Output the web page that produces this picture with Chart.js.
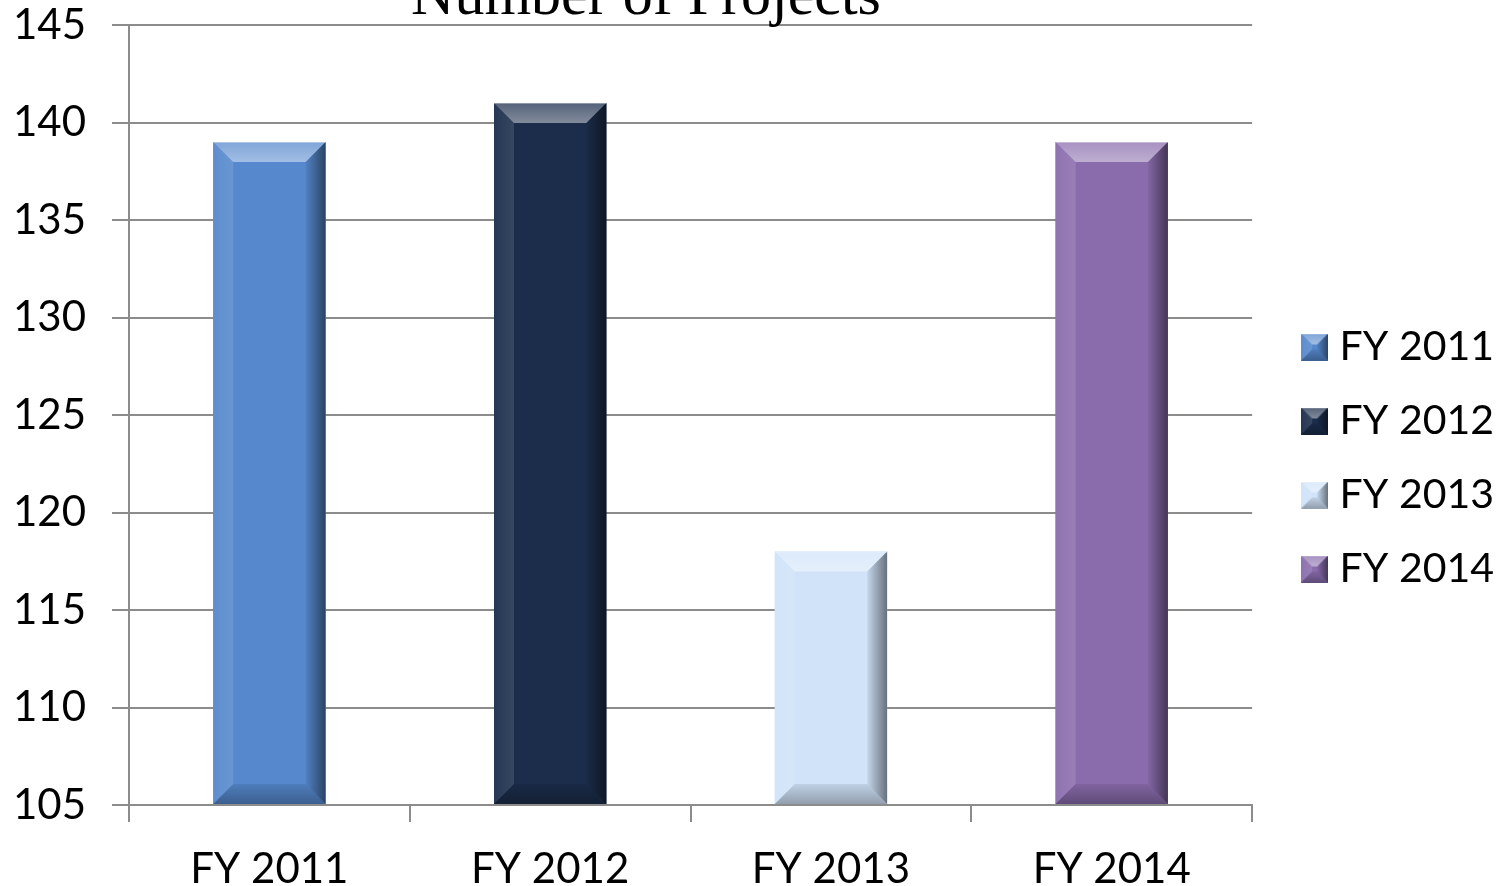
<!DOCTYPE html>
<html>
<head>
<meta charset="utf-8">
<script src="https://cdn.jsdelivr.net/npm/chart.js@4.4.1/dist/chart.umd.min.js"></script>
<style>
  html, body { margin: 0; padding: 0; background: #fff; }
  #wrap { width: 1512px; height: 886px; }
</style>
</head>
<body>
<div id="wrap"><canvas id="chart" width="1512" height="886"></canvas></div>
<script>
const categories = ["FY 2011", "FY 2012", "FY 2013", "FY 2014"];
const projectCounts = [139, 141, 118, 139];
const barColors = ["#5588cc", "#1b2d4b", "#d0e3f9", "#8a6cad"];
const yTicks = [105, 110, 115, 120, 125, 130, 135, 140, 145];
const chartTitle = "Number of Projects";

const gridColor = "#8c8c8c";

// bevelled box like the office "bevel" bar style
function drawBevel(ctx, l, t, r, b, color, bev) {
  ctx.save();
  ctx.fillStyle = color;
  ctx.fillRect(l, t, r - l, b - t);
  bev = Math.min(bev, (r - l) / 2, (b - t) / 2);
  // top
  let g = ctx.createLinearGradient(0, t, 0, t + bev);
  g.addColorStop(0, "rgba(255,255,255,0.25)");
  g.addColorStop(1, "rgba(255,255,255,0.45)");
  ctx.fillStyle = g;
  ctx.beginPath();
  ctx.moveTo(l, t); ctx.lineTo(r, t); ctx.lineTo(r - bev, t + bev); ctx.lineTo(l + bev, t + bev);
  ctx.closePath(); ctx.fill();
  // left
  g = ctx.createLinearGradient(l, 0, l + bev, 0);
  g.addColorStop(0, "rgba(255,255,255,0.05)");
  g.addColorStop(1, "rgba(255,255,255,0.12)");
  ctx.fillStyle = g;
  ctx.beginPath();
  ctx.moveTo(l, t); ctx.lineTo(l + bev, t + bev); ctx.lineTo(l + bev, b - bev); ctx.lineTo(l, b);
  ctx.closePath(); ctx.fill();
  // right
  g = ctx.createLinearGradient(r - bev, 0, r, 0);
  g.addColorStop(0, "rgba(0,0,0,0.05)");
  g.addColorStop(1, "rgba(0,0,0,0.5)");
  ctx.fillStyle = g;
  ctx.beginPath();
  ctx.moveTo(r, t); ctx.lineTo(r, b); ctx.lineTo(r - bev, b - bev); ctx.lineTo(r - bev, t + bev);
  ctx.closePath(); ctx.fill();
  // bottom
  g = ctx.createLinearGradient(0, b - bev, 0, b);
  g.addColorStop(0, "rgba(0,0,0,0.08)");
  g.addColorStop(1, "rgba(0,0,0,0.3)");
  ctx.fillStyle = g;
  ctx.beginPath();
  ctx.moveTo(l, b); ctx.lineTo(l + bev, b - bev); ctx.lineTo(r - bev, b - bev); ctx.lineTo(r, b);
  ctx.closePath(); ctx.fill();
  ctx.strokeStyle = "rgba(255,255,255,0.35)";
  ctx.lineWidth = 1;
  ctx.beginPath(); ctx.moveTo(l, t + 0.5); ctx.lineTo(r, t + 0.5); ctx.stroke();
  ctx.restore();
}

// little legend swatches with the same bevel
const legendIcons = barColors.map(c => {
  const cv = document.createElement("canvas");
  cv.width = 27; cv.height = 27;
  drawBevel(cv.getContext("2d"), 0, 0, 27, 27, c, 11);
  return cv;
});

const bevelBars = {
  id: "bevelBars",
  afterDatasetsDraw(chart) {
    const ctx = chart.ctx;
    chart.getDatasetMeta(0).data.forEach((bar, i) => {
      const p = bar.getProps(["x", "y", "base", "width"], true);
      drawBevel(ctx, p.x - p.width / 2, p.y, p.x + p.width / 2, p.base, barColors[i], 20);
    });
  }
};

const topTitle = {
  id: "topTitle",
  afterDraw(chart) {
    const ctx = chart.ctx;
    ctx.save();
    ctx.font = "60px 'Liberation Serif', 'DejaVu Serif', serif";
    ctx.fillStyle = "#000";
    ctx.textAlign = "center";
    ctx.textBaseline = "alphabetic";
    ctx.fillText(chartTitle, 646, 14);
    ctx.restore();
  }
};

new Chart(document.getElementById("chart"), {
  type: "bar",
  data: {
    labels: categories,
    datasets: [{
      label: chartTitle,
      data: projectCounts,
      base: yTicks[0],
      backgroundColor: barColors,
      borderWidth: 0,
      barPercentage: 0.4,
      categoryPercentage: 1
    }]
  },
  options: {
    responsive: false,
    animation: false,
    layout: { padding: { top: 0, right: 8, left: 10, bottom: -30 } },
    plugins: {
      title: { display: false },
      tooltip: { enabled: false },
      legend: {
        position: "right",
        labels: {
          usePointStyle: true,
          pointStyleWidth: 9,
          boxWidth: 9,
          boxHeight: 27,
          padding: 33,
          color: "#000",
          font: { family: "Lato", size: 41 },
          generateLabels: () => categories.map((c, i) => ({
            text: c,
            pointStyle: legendIcons[i],
            fillStyle: barColors[i],
            strokeStyle: barColors[i],
            lineWidth: 0,
            hidden: false,
            index: i,
            datasetIndex: 0
          }))
        }
      }
    },
    scales: {
      x: {
        afterFit: s => { s.height = 111; },
        grid: { offset: true, drawOnChartArea: false, color: gridColor, lineWidth: 2, tickLength: 17 },
        border: { color: gridColor, width: 2 },
        ticks: { color: "#000", font: { family: "Lato", size: 42 }, padding: 22 }
      },
      y: {
        afterFit: s => { s.width = 119; s.paddingTop = 25; },
        min: yTicks[0],
        max: yTicks[yTicks.length - 1],
        ticks: { stepSize: yTicks[1] - yTicks[0], color: "#000", font: { family: "Lato", size: 42 }, padding: 26 },
        grid: { color: gridColor, lineWidth: 2, tickLength: 17 },
        border: { color: gridColor, width: 2 }
      },
      // empty spacer between the plot and the legend
      gap: {
        position: "right",
        afterFit: s => { s.width = 25; s.paddingTop = 0; s.paddingBottom = 0; },
        grid: { display: false },
        border: { display: false },
        ticks: { display: false }
      }
    }
  },
  plugins: [bevelBars, topTitle]
});
</script>
</body>
</html>
